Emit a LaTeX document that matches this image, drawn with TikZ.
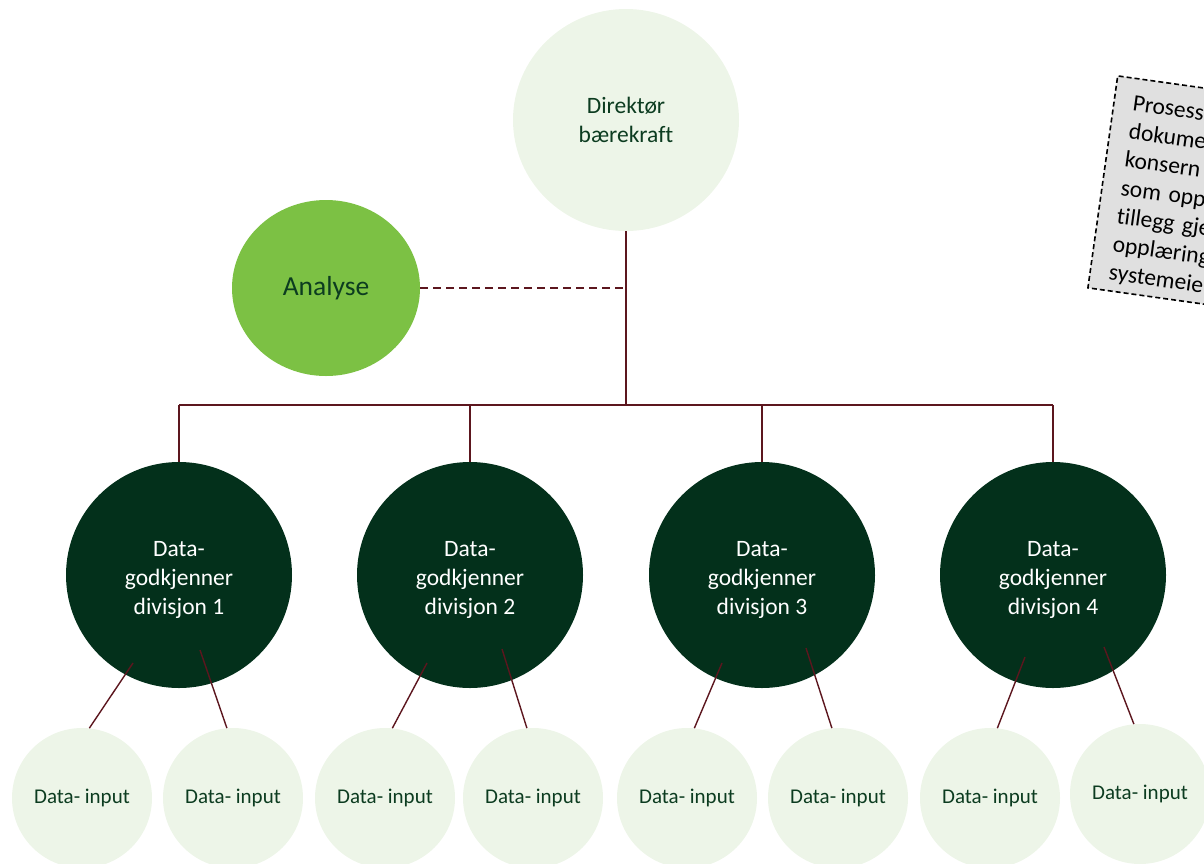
\documentclass[tikz,border=0pt]{standalone}
\usepackage{fontspec}
\setmainfont{Carlito}[Ligatures=NoCommon]
\usetikzlibrary{shapes.geometric,calc}

\definecolor{paleGreen}{RGB}{237,245,232}
\definecolor{deepGreen}{RGB}{3,48,27}
\definecolor{leafGreen}{RGB}{124,193,68}
\definecolor{inkGreen}{RGB}{12,60,32}
\definecolor{wire}{RGB}{92,22,30}
\definecolor{noteGray}{RGB}{224,224,224}

\begin{document}
\begin{tikzpicture}[x=1pt,y=-1pt,
	link/.style={draw=wire,line width=2pt},
	feed/.style={draw=wire,line width=1.4pt},
	divnode/.style={circle,fill=deepGreen,minimum size=226,inner sep=0pt},
	divtext/.style={text=white,align=center,yshift=-5pt,font=\fontsize{23.5}{29}\selectfont},
	inputnode/.style={circle,fill=paleGreen,text=inkGreen,minimum size=140,inner sep=0pt,
		font=\fontsize{21}{25}\selectfont}]
\clip (0,0) rectangle (1204,863);
% top of the tree
\node[ellipse,fill=paleGreen,text=inkGreen,minimum width=226,minimum height=222,align=center,
	font=\fontsize{23.5}{29}\selectfont] (dir) at (626,120) {Direktør\\bærekraft};
\node[ellipse,fill=leafGreen,text=inkGreen,minimum width=188,minimum height=176,
	font=\fontsize{27.5}{32}\selectfont] (ana) at (326,288) {Analyse};
\coordinate (bar) at (626,405);
% divisions and inputs
\foreach \x [count=\i] in {179,470,762,1053}
	\node[divnode,label={[divtext]center:Data-\\godkjenner\\divisjon \i}] (d\i) at (\x,575) {};
\foreach \x/\y [count=\i] in {82/798,233/798,385/798,533/798,687/798,838/798,990/798,1140/794}
	\node[inputnode] (s\i) at (\x,\y) {Data- input};
% connectors
\draw[link] (dir.south) -- (bar);
\draw[link] (d1 |- bar) -- (d4 |- bar);
\foreach \i in {1,...,4}
	\draw[link] (d\i |- bar) -- (d\i.north);
\draw[link,dash pattern=on 8pt off 5pt] (ana.east) -- (ana.east -| bar);
\foreach \i/\a/\b/\c/\e in {1/-46/88/21/75,2/-43/88/32/74,3/-40/88/44/73,4/-28/82/51/72}{
	\pgfmathtruncatemacro\l{2*\i-1}
	\pgfmathtruncatemacro\r{2*\i}
	\draw[feed] ($(d\i)+(\a,\b)$) -- (s\l.84);
	\draw[feed] ($(d\i)+(\c,\e)$) -- (s\r.95);
}
% note, cut by the edge
\node[draw=black,fill=noteGray,line width=1.6pt,dash pattern=on 5pt off 3pt,rotate=-8,
	anchor=north west,minimum width=190,minimum height=214,inner sep=0pt,
	label={[rotate=-8,yshift=-5pt,text width=152pt,align=left,
		font=\fontsize{23.5}{28.5}\selectfont]center:Prosess\\dokume\\konsern\\som opp\\tillegg gje\\opplæring\\systemeie}]
	(note) at (1117,75) {};
\end{tikzpicture}
\end{document}
